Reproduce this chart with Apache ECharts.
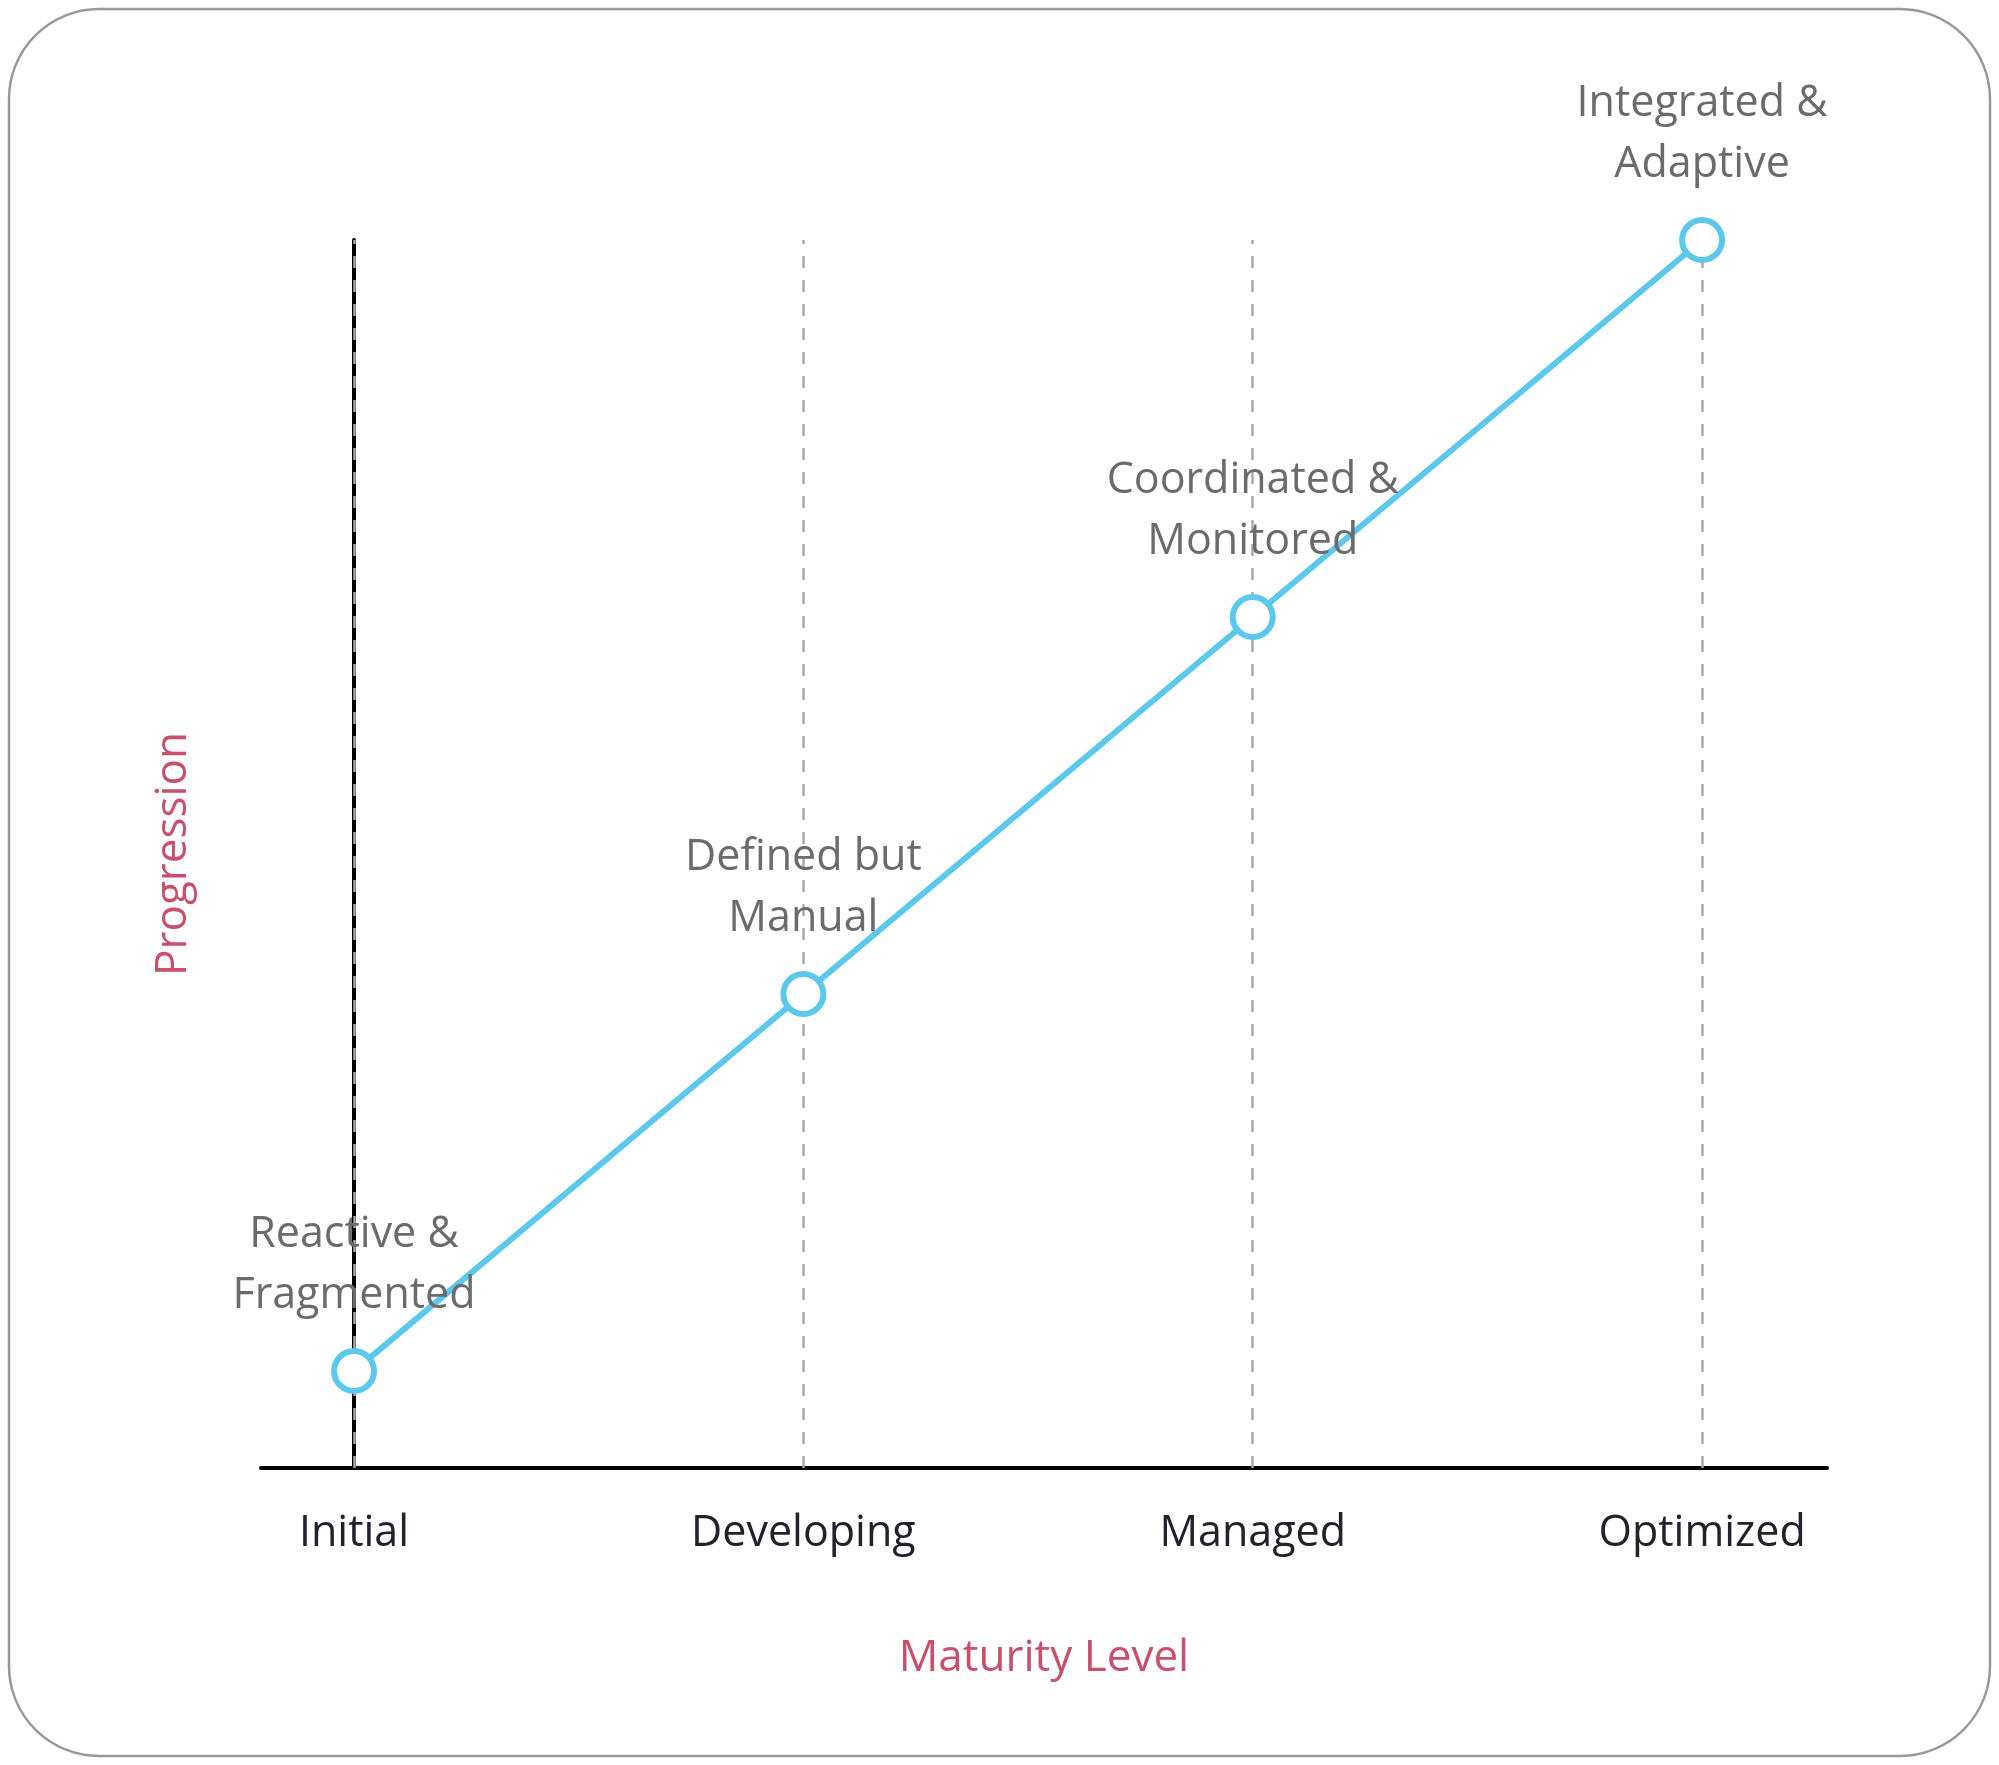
<!DOCTYPE html>
<html><head><meta charset="utf-8">
<script src="https://cdn.jsdelivr.net/npm/echarts@6/dist/echarts.min.js"></script>
<style>html,body{margin:0;padding:0;background:#fff}#c{width:1999px;height:1765px}</style>
</head><body><div id="c"></div>
<script>
const categories = ['Initial','Developing','Managed','Optimized'];
const stageLabels = ['Reactive &\nFragmented','Defined but\nManual','Coordinated &\nMonitored','Integrated &\nAdaptive'];
const progression = [1,2,3,4];

const chart = echarts.init(document.getElementById('c'));
const font = 'Open Sans';
chart.setOption({
  animation:false,
  graphic:[{type:'rect',shape:{x:9,y:9,width:1981,height:1747,r:90},style:{fill:'none',stroke:'#999',lineWidth:2.5}}],
  grid:{left:261,right:172,top:240,bottom:297},
  xAxis:{type:'value',min:-0.207,max:3.278,
    name:'Maturity Level',nameLocation:'middle',nameGap:168,
    nameTextStyle:{color:'#c8506a',fontSize:44,fontFamily:font},
    axisLine:{lineStyle:{color:'#000',width:4}},
    axisTick:{show:false},splitLine:{show:false},
    axisLabel:{customValues:[0,1,2,3],formatter:v=>categories[Math.round(v)]||'',
      color:'#22222f',fontSize:43,fontFamily:font,margin:44}},
  yAxis:{type:'value',min:0.743,max:4,
    name:'Progression',nameLocation:'middle',nameGap:66,
    nameTextStyle:{color:'#c8506a',fontSize:44,fontFamily:font},
    axisLine:{show:true,lineStyle:{color:'#000',width:4}},
    axisTick:{show:false},axisLabel:{show:false},splitLine:{show:false}},
  series:[{type:'line',
    data:progression.map((v,i)=>[i,v]),
    lineStyle:{color:'#5bc8ec',width:6},
    symbol:'circle',symbolSize:40,
    itemStyle:{color:'#fff',borderColor:'#5bc8ec',borderWidth:6},
    label:{show:true,position:'top',distance:22,formatter:p=>stageLabels[p.dataIndex],
      color:'#6b6b6b',fontSize:43,fontFamily:font,lineHeight:61,align:'center'},
    markLine:{silent:true,symbol:'none',label:{show:false},z:1,
      lineStyle:{type:[12,12],color:'#aaa',width:2.5},
      data:categories.map((c,i)=>({xAxis:i}))},
    z:3}]
});
</script></body></html>
